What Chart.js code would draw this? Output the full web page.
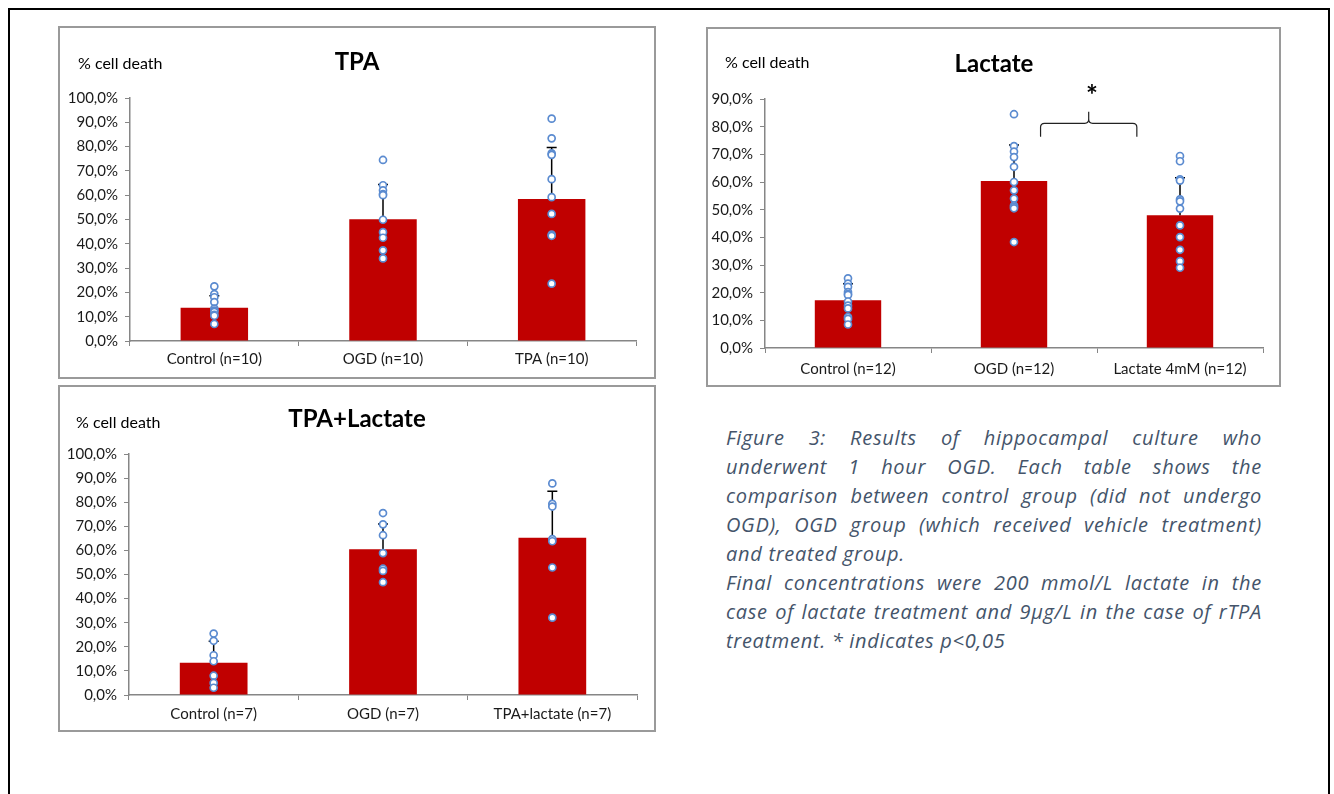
<!DOCTYPE html>
<html>
<head>
<meta charset="utf-8">
<script src="https://cdn.jsdelivr.net/npm/chart.js@4.4.1/dist/chart.umd.min.js"></script>
<style>
  html, body { margin:0; padding:0; background:#fff; overflow:hidden; }
  body { width:1334px; height:794px; position:relative; font-family: Lato, "Open Sans", sans-serif; }
  .frame { position:absolute; left:8px; top:8px; width:1322px; height:820px; border:2px solid #000; box-sizing:border-box; }
  .box { position:absolute; border:2px solid #9a9a9a; box-sizing:border-box; background:#fff; }
  canvas { position:absolute; }
  .ttl { position:absolute; font: bold 24px Lato, sans-serif; color:#000; transform:translate(-50%,-50%); white-space:nowrap; }
  .ylab { position:absolute; font: 16px Lato, sans-serif; color:#000; transform:translateY(-50%); white-space:nowrap; }
  .caption { position:absolute; left:726px; top:423px; width:536px; font: italic 20px "Open Sans", sans-serif; letter-spacing:0.7px; color:#44546A; }
  .caption div { height:29px; line-height:29px; white-space:nowrap; }
  .caption .j { text-align:justify; text-align-last:justify; white-space:normal; }
</style>
</head>
<body>
<div class="frame"></div>

<div class="box" style="left:58px;top:26px;width:598px;height:353px;"></div>
<canvas id="cTPA" width="594" height="349" style="left:60px;top:28px;"></canvas>
<div class="ttl" style="left:357px;top:60px;">TPA</div>
<div class="ylab" style="left:78px;top:62px;">% cell death</div>

<div class="box" style="left:706px;top:27px;width:575px;height:360px;"></div>
<canvas id="cLac" width="571" height="356" style="left:708px;top:29px;"></canvas>
<div class="ttl" style="left:994px;top:62px;">Lactate</div>
<div class="ylab" style="left:725px;top:61px;">% cell death</div>

<div class="box" style="left:58px;top:385px;width:598px;height:347px;"></div>
<canvas id="cTL" width="594" height="343" style="left:60px;top:387px;"></canvas>
<div class="ttl" style="left:357px;top:417px;">TPA+Lactate</div>
<div class="ylab" style="left:76px;top:421px;">% cell death</div>

<div class="caption">
  <div class="j">Figure 3: Results of hippocampal culture who</div>
  <div class="j">underwent 1 hour OGD. Each table shows the</div>
  <div class="j">comparison between control group (did not undergo</div>
  <div class="j">OGD), OGD group (which received vehicle treatment)</div>
  <div>and treated group.</div>
  <div class="j">Final concentrations were 200 mmol/L lactate in the</div>
  <div class="j">case of lactate treatment and 9µg/L in the case of rTPA</div>
  <div>treatment. * indicates p&lt;0,05</div>
</div>

<script>
// ---------- DATA ----------
const tpaCategories = ['Control (n=10)', 'OGD (n=10)', 'TPA (n=10)'];
const tpaMeans = [13.7, 50.1, 58.4];
const tpaSD = [4.9, 14.3, 21.2];
const tpaControlPoints = [22.5, 19.3, 18.0, 16.0, 13.3, 12.5, 12.0, 10.8, 10.4, 7.0];
const tpaOgdPoints = [74.5, 64.1, 62.0, 60.5, 60.0, 49.9, 44.8, 42.5, 37.3, 34.0];
const tpaTreatedPoints = [91.5, 83.4, 77.2, 76.6, 66.6, 59.2, 52.3, 43.8, 43.3, 23.6];

const lacCategories = ['Control (n=12)', 'OGD (n=12)', 'Lactate 4mM (n=12)'];
const lacMeans = [17.3, 60.4, 48.0];
const lacSD = [5.9, 13.0, 13.5];
const lacControlPoints = [25.2, 23.3, 22.1, 20.2, 19.5, 19.2, 16.8, 15.3, 14.3, 11.2, 10.5, 8.5];
const lacOgdPoints = [84.5, 73.0, 71.0, 69.0, 65.5, 60.0, 57.0, 54.0, 51.5, 51.0, 50.5, 38.3];
const lacTreatedPoints = [69.4, 67.5, 61.0, 60.5, 53.7, 53.0, 50.4, 44.3, 40.1, 35.5, 31.4, 29.0];

const tlCategories = ['Control (n=7)', 'OGD (n=7)', 'TPA+lactate (n=7)'];
const tlMeans = [13.4, 60.5, 65.3];
const tlSD = [8.9, 10.5, 19.2];
const tlControlPoints = [25.5, 22.5, 16.5, 14.0, 8.0, 5.0, 3.0];
const tlOgdPoints = [75.5, 70.8, 66.3, 58.9, 52.4, 51.5, 46.8];
const tlTreatedPoints = [87.8, 79.3, 78.2, 64.7, 63.8, 52.9, 32.1];

const yMaxTPA = 100, yMaxLac = 90, yMaxTL = 100, yStep = 10;

// significance bracket (category-index units / value units)
const sigBracket = { from: 1.16, to: 1.74, mid: 1.45, base: 76.4, bar: 81.2, peak: 85.4, starX: 1.47, starY: 92.7, label: '*' };

// ---------- STYLE ----------
const BAR_COLOR = '#C00000';
const POINT_COLOR = '#5B8BD0';
const AXIS_COLOR = '#868686';
const TEXT_COLOR = '#1a1a1a';

const errorBars = {
  id: 'errorBars',
  afterDatasetDraw(chart, args) {
    if (args.index !== 0) return;
    const ds = chart.data.datasets[0];
    const y = chart.scales.y;
    const ctx = chart.ctx;
    ctx.save();
    ctx.strokeStyle = '#000';
    ctx.lineWidth = 1.5;
    args.meta.data.forEach((bar, i) => {
      const top = y.getPixelForValue(ds.data[i] + ds.sd[i]);
      ctx.beginPath();
      ctx.moveTo(bar.x, bar.y);
      ctx.lineTo(bar.x, top);
      ctx.moveTo(bar.x - 5, top);
      ctx.lineTo(bar.x + 5, top);
      ctx.stroke();
    });
    ctx.restore();
  }
};

const bracketPlugin = {
  id: 'bracket',
  afterDraw(chart) {
    const b = sigBracket;
    const xs = chart.scales.x, ys = chart.scales.y;
    const x1 = xs.getPixelForValue(b.from), x2 = xs.getPixelForValue(b.to), xm = xs.getPixelForValue(b.mid);
    const yb = ys.getPixelForValue(b.base), yh = ys.getPixelForValue(b.bar), yp = ys.getPixelForValue(b.peak);
    const ctx = chart.ctx;
    ctx.save();
    ctx.strokeStyle = '#222';
    ctx.lineWidth = 1.2;
    const r = 4;
    ctx.beginPath();
    ctx.moveTo(x1, yb);
    ctx.lineTo(x1, yh + r);
    ctx.quadraticCurveTo(x1, yh, x1 + r, yh);
    ctx.lineTo(xm - r, yh);
    ctx.quadraticCurveTo(xm, yh, xm, yh - r);
    ctx.lineTo(xm, yp);
    ctx.moveTo(xm, yh - r);
    ctx.quadraticCurveTo(xm, yh, xm + r, yh);
    ctx.lineTo(x2 - r, yh);
    ctx.quadraticCurveTo(x2, yh, x2, yh + r);
    ctx.lineTo(x2, yb);
    ctx.stroke();
    ctx.fillStyle = '#000';
    ctx.font = 'bold 28px Lato, sans-serif';
    ctx.textAlign = 'center';
    ctx.textBaseline = 'middle';
    ctx.fillText(b.label, xs.getPixelForValue(b.starX), ys.getPixelForValue(b.starY) + 4);
    ctx.restore();
  }
};

function pointsFor(categories, groups) {
  const out = [];
  groups.forEach((g, i) => g.forEach(v => out.push({ x: categories[i], y: v })));
  return out;
}

function makeChart(id, cats, means, sds, groups, yMax, lay, extraPlugins) {
  return new Chart(document.getElementById(id), {
    type: 'bar',
    data: {
      labels: cats,
      datasets: [
        { type: 'bar', data: means, sd: sds, backgroundColor: BAR_COLOR, borderWidth: 0,
          categoryPercentage: 1.0, barPercentage: 0.4, order: 2 },
        { type: 'line', data: pointsFor(cats, groups), showLine: false, order: 1,
          pointRadius: 3.5, pointBorderWidth: 1.7, pointBorderColor: POINT_COLOR,
          pointBackgroundColor: '#ffffff' }
      ]
    },
    options: {
      responsive: false,
      animation: false,
      devicePixelRatio: 1,
      layout: { padding: { left: 0, right: lay.right, top: lay.top, bottom: 0 } },
      plugins: { legend: { display: false }, tooltip: { enabled: false }, title: { display: false } },
      scales: {
        x: {
          offset: true,
          grid: { offset: true, drawOnChartArea: false, drawTicks: true, tickLength: 5, color: AXIS_COLOR, lineWidth: 1 },
          border: { color: AXIS_COLOR, width: 1.5 },
          ticks: { color: TEXT_COLOR, font: { family: 'Lato', size: 15 }, padding: lay.xpad, maxRotation: 0 },
          afterFit: s => { s.height = lay.xh; }
        },
        y: {
          min: 0, max: yMax,
          grid: { drawOnChartArea: false, drawTicks: true, tickLength: 5, color: AXIS_COLOR, lineWidth: 1 },
          border: { color: AXIS_COLOR, width: 1.5 },
          ticks: { stepSize: yStep, color: TEXT_COLOR, font: { family: 'Lato', size: 15 }, padding: 7,
                   callback: v => v.toFixed(1).replace('.', ',') + '%' },
          afterFit: s => { s.width = lay.yw; }
        }
      }
    },
    plugins: [errorBars].concat(extraPlugins || [])
  });
}

makeChart('cTPA', tpaCategories, tpaMeans, tpaSD, [tpaControlPoints, tpaOgdPoints, tpaTreatedPoints], yMaxTPA,
  { right: 18, top: 70, xh: 36, yw: 70, xpad: 4 });
makeChart('cLac', lacCategories, lacMeans, lacSD, [lacControlPoints, lacOgdPoints, lacTreatedPoints], yMaxLac,
  { right: 16, top: 70, xh: 37, yw: 57, xpad: 7 }, [bracketPlugin]);
makeChart('cTL', tlCategories, tlMeans, tlSD, [tlControlPoints, tlOgdPoints, tlTreatedPoints], yMaxTL,
  { right: 17, top: 67, xh: 35, yw: 69, xpad: 5 });
</script>
</body>
</html>
